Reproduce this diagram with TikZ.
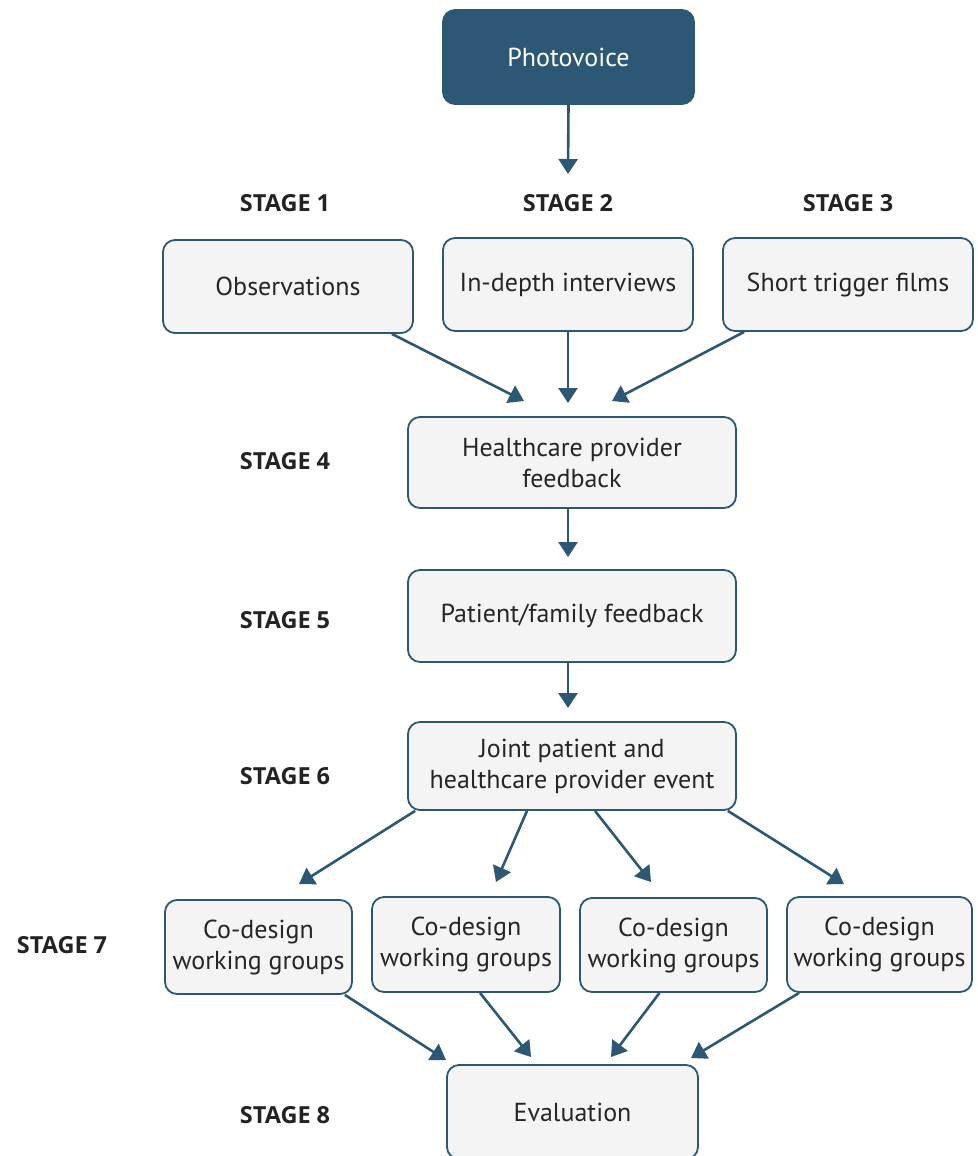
\documentclass[tikz,border=0pt]{standalone}
\usepackage{fontspec}
\setmainfont{PT Sans}
\newfontfamily\stagefont{Open Sans}
\usetikzlibrary{arrows.meta,calc}
\definecolor{dblue}{RGB}{45,88,117}
\definecolor{boxfill}{RGB}{244,244,244}
\definecolor{stagecol}{RGB}{35,35,35}
\begin{document}
\begin{tikzpicture}[x=1pt,y=-1pt,
  box/.style={draw=dblue,line width=1.8pt,fill=boxfill,rounded corners=12pt,
    align=center,inner sep=2pt,font=\fontsize{26}{31}\selectfont,text=black!85},
  topbox/.style={box,fill=dblue,draw=dblue,text=white},
  stagelbl/.style={font=\stagefont\fontsize{23.5}{28}\selectfont\bfseries,text=stagecol},
  arr/.style={draw=dblue,line width=2.6pt,-{Triangle[length=15pt,width=19pt]}}]
\useasboundingbox (0,0) rectangle (977,1156);
\clip (0,0) rectangle (977,1156);

\node[topbox,minimum width=251pt,minimum height=94pt] (photo) at (568.5,57) {Photovoice};

\node[stagelbl] (s1) at (285,203) {STAGE 1};
\node[stagelbl] (s2) at (568,203) {STAGE 2};
\node[stagelbl] (s3) at (848,203) {STAGE 3};
\node[stagelbl] (s4) at (285,461) {STAGE 4};
\node[stagelbl] (s5) at (285,620) {STAGE 5};
\node[stagelbl] (s6) at (285,776) {STAGE 6};
\node[stagelbl] (s7) at (62,945) {STAGE 7};
\node[stagelbl] (s8) at (285,1115) {STAGE 8};

\node[box,minimum width=250pt,minimum height=93pt] (obs) at (288,286.5) {Observations};
\node[box,minimum width=250pt,minimum height=93pt] (idi) at (568,284.5) {In-depth interviews};
\node[box,minimum width=250pt,minimum height=93pt] (stf) at (848,284.5) {Short trigger films};

\node[box,minimum width=328pt,minimum height=91pt] (hpf) at (572,462.5) {Healthcare provider\\feedback};
\node[box,minimum width=328pt,minimum height=92pt] (pff) at (572,616) {Patient/family feedback};
\node[box,minimum width=328pt,minimum height=88pt] (joint) at (572,766) {Joint patient and\\healthcare provider event};

\node[box,minimum width=187pt,minimum height=94pt] (cd1) at (258.5,947) {Co-design\\working groups};
\node[box,minimum width=188pt,minimum height=95pt] (cd2) at (466,944.5) {Co-design\\working groups};
\node[box,minimum width=187pt,minimum height=94pt] (cd3) at (673.5,945) {Co-design\\working groups};
\node[box,minimum width=185pt,minimum height=95pt] (cd4) at (879.5,944.5) {Co-design\\working groups};

\node[box,minimum width=251pt,minimum height=94pt] (eval) at (572.5,1112) {Evaluation};

% free ends of connectors
\coordinate (e0) at (568,174);
\coordinate (e1) at (524,401);
\coordinate (e2) at (568,403);
\coordinate (e3) at (612,401);
\coordinate (e4) at (568,557);
\coordinate (e5) at (568,708);
\coordinate (e6) at (299,884);
\coordinate (e7) at (496,882);
\coordinate (e8) at (651,882);
\coordinate (e9) at (844,884);
\coordinate (e10) at (446,1060);
\coordinate (e11) at (531,1057);
\coordinate (e12) at (611,1057);
\coordinate (e13) at (691,1058);

\draw[arr] (photo.south) -- (e0);
\draw[arr] ($(obs.south east)+(-22,0)$) -- (e1);
\draw[arr] (idi.south) -- (e2);
\draw[arr] ($(stf.south west)+(22,0)$) -- (e3);
\draw[arr] ($(hpf.south)+(-4,0)$) -- (e4);
\draw[arr] ($(pff.south)+(-4,0)$) -- (e5);
\draw[arr] ($(joint.south west)+(8,0)$) -- (e6);
\draw[arr] ($(joint.south)+(-45,0)$) -- (e7);
\draw[arr] ($(joint.south)+(23,0)$) -- (e8);
\draw[arr] ($(joint.south east)+(-9,0)$) -- (e9);
\draw[arr] ($(cd1.south east)+(-8,0)$) -- (e10);
\draw[arr] ($(cd2.south)+(14,0)$) -- (e11);
\draw[arr] ($(cd3.south)+(-14,0)$) -- (e12);
\draw[arr] ($(cd4.south west)+(13,0)$) -- (e13);
\end{tikzpicture}
\end{document}
